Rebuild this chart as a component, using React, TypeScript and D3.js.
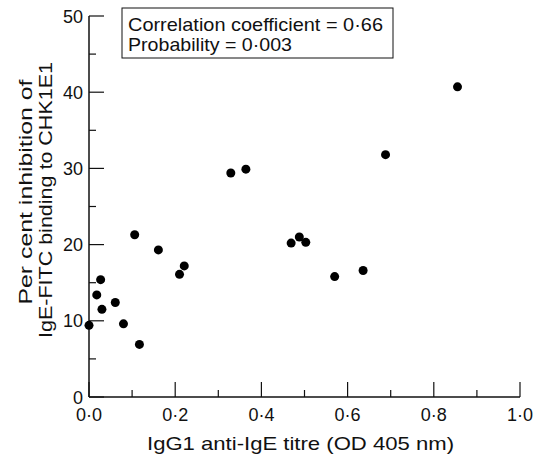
import React from "react";
import * as d3 from "d3";

const xValues = [0.0, 0.018, 0.027, 0.030, 0.061, 0.080, 0.106, 0.117, 0.161, 0.210, 0.221, 0.329, 0.364, 0.469, 0.488, 0.503, 0.570, 0.636, 0.688, 0.855];
const yValues = [9.4, 13.4, 15.4, 11.5, 12.4, 9.6, 21.3, 6.9, 19.3, 16.1, 17.2, 29.4, 29.9, 20.2, 21.0, 20.3, 15.8, 16.6, 31.8, 40.7];
const xMajorTicks = [0, 0.2, 0.4, 0.6, 0.8, 1.0];
const xMinorTicks = [0.1, 0.3, 0.5, 0.7, 0.9];
const xTickLabels = ["0·0", "0·2", "0·4", "0·6", "0·8", "1·0"];
const yMajorTicks = [0, 10, 20, 30, 40, 50];
const yMinorTicks = [5, 15, 25, 35, 45];
const yTickLabels = ["0", "10", "20", "30", "40", "50"];
const xTitle = "IgG1 anti-IgE titre (OD 405 nm)";
const yTitleLines = ["Per cent inhibition of", "IgE-FITC binding to CHK1E1"];
const statLines = ["Correlation coefficient = 0·66", "Probability = 0·003"];

const W = 544;
const H = 457;
const left = 89;
const right = 520;
const top = 16;
const bottom = 397;

export default function App() {
  const x = d3.scaleLinear().domain([0, 1]).range([left, right]);
  const y = d3.scaleLinear().domain([0, 50]).range([bottom, top]);
  const font = "'Liberation Sans', Arial, Helvetica, sans-serif";
  return (
    <svg width={W} height={H} style={{ position: "absolute", left: 0, top: 0, background: "#fff" }} fontFamily={font}>
      <rect x={0} y={0} width={W} height={H} fill="#fff" />
      <line x1={left} y1={y(50)} x2={left} y2={bottom} stroke="#111" strokeWidth={1.5} />
      <line x1={left} y1={bottom} x2={right} y2={bottom} stroke="#111" strokeWidth={1.5} />
      {xMajorTicks.map((t) => (
        <line key={"xM" + t} x1={x(t)} x2={x(t)} y1={bottom} y2={bottom - 15} stroke="#111" strokeWidth={1.2} />
      ))}
      {xMinorTicks.map((t) => (
        <line key={"xm" + t} x1={x(t)} x2={x(t)} y1={bottom} y2={bottom - 7} stroke="#111" strokeWidth={1.2} />
      ))}
      {yMajorTicks.map((t) => (
        <line key={"yM" + t} x1={left} x2={left + 15} y1={y(t)} y2={y(t)} stroke="#111" strokeWidth={1.2} />
      ))}
      {yMinorTicks.map((t) => (
        <line key={"ym" + t} x1={left} x2={left + 7} y1={y(t)} y2={y(t)} stroke="#111" strokeWidth={1.2} />
      ))}
      {xMajorTicks.map((t, i) => (
        <text key={"xl" + t} x={x(t)} y={421} textAnchor="middle" fontSize={18} fill="#111">
          {xTickLabels[i]}
        </text>
      ))}
      {yMajorTicks.map((t, i) => (
        <text key={"yl" + t} x={83} y={y(t) + 6.5} textAnchor="end" fontSize={18} fill="#111">
          {yTickLabels[i]}
        </text>
      ))}
      <text x={147} y={450} fontSize={19} fill="#111" textLength={307} lengthAdjust="spacingAndGlyphs">
        {xTitle}
      </text>
      <g transform="rotate(-90)">
        <text x={-192} y={32} textAnchor="middle" fontSize={19} fill="#111" textLength={225} lengthAdjust="spacingAndGlyphs">
          {yTitleLines[0]}
        </text>
        <text x={-200} y={52} textAnchor="middle" fontSize={19} fill="#111" textLength={276} lengthAdjust="spacingAndGlyphs">
          {yTitleLines[1]}
        </text>
      </g>
      <rect x={122} y={8} width={271} height={50} fill="#fff" stroke="#111" strokeWidth={1} />
      <text x={128} y={31} fontSize={19} fill="#111" textLength={255} lengthAdjust="spacingAndGlyphs">
        {statLines[0]}
      </text>
      <text x={128} y={51} fontSize={19} fill="#111" textLength={164} lengthAdjust="spacingAndGlyphs">
        {statLines[1]}
      </text>
      {xValues.map((v, i) => (
        <circle key={"p" + i} cx={x(v)} cy={y(yValues[i])} r={4.5} fill="#000" />
      ))}
    </svg>
  );
}
